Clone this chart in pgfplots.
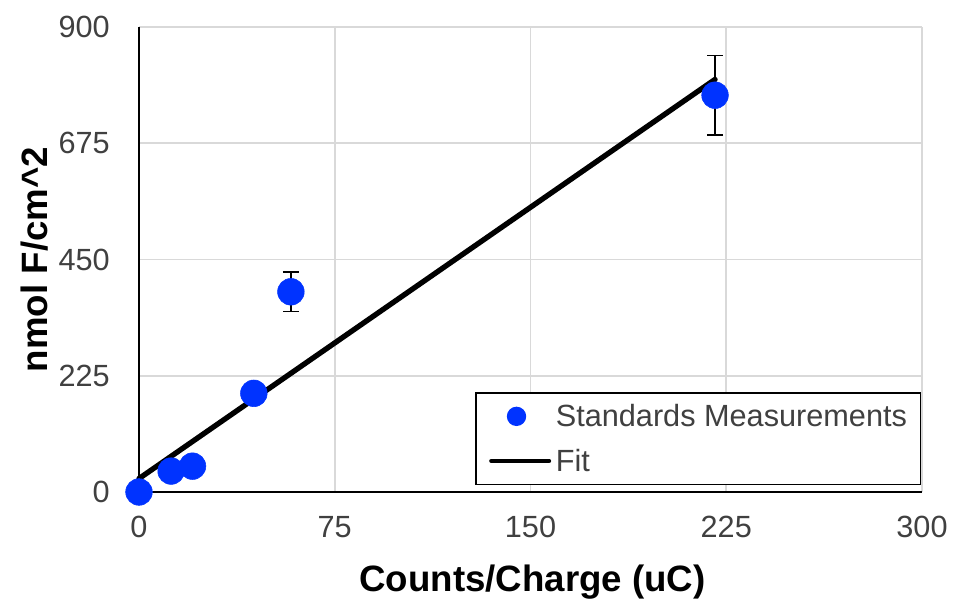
\documentclass[border=0pt]{standalone}
\usepackage{fontspec}
\setmainfont{Liberation Sans}
\usepackage{pgfplots}
\pgfplotsset{compat=1.18}
\definecolor{ptblue}{RGB}{0,51,255}
\definecolor{gridgray}{RGB}{217,217,217}
\definecolor{ticktext}{RGB}{64,64,64}
\begin{document}
\begin{tikzpicture}
\begin{axis}[
  name=ax,
  scale only axis,
  width=587.25pt, height=348.75pt,
  xmin=0, xmax=300, ymin=0, ymax=900,
  xtick={0,75,150,225,300}, ytick={0,225,450,675,900},
  axis lines=left,
  axis line style={-, black, line width=1.2pt},
  grid=major,
  major grid style={gridgray, line width=1.2pt},
  major tick length=0pt,
  tick label style={font=\fontsize{23}{27}\selectfont, text=ticktext, inner sep=0pt},
  /pgf/number format/assume math mode=true,
  xticklabel shift=18pt,
  yticklabel shift=21.75pt,
  xlabel={Counts/Charge (uC)},
  ylabel={nmol F/cm\^{}2},
  label style={font=\fontsize{27.5}{32}\selectfont\bfseries, text=black, inner sep=0pt},
  xlabel style={at={(axis description cs:0.5026,-0.215)}, anchor=base},
  ylabel style={at={(axis description cs:-0.1175,0.5)}, anchor=base},
  legend cell align=left,
  legend style={
    at={(0.9987,0.015)}, anchor=south east,
    draw=black, line width=1pt, fill=white,
    inner xsep=10pt, inner ysep=8.5pt,
    row sep=15.25pt,
    nodes={inner sep=0pt, text=ticktext, font=\fontsize{23}{27}\selectfont},
    /tikz/every odd column/.append style={column sep=3.5pt},
  },
  clip=false,
]
\addplot[
  only marks, mark=*, mark size=10pt,
  mark options={draw=ptblue, fill=ptblue},
  legend image code/.code={\path[draw=none, fill=none] (0pt,-1pt) rectangle (43.5pt,1pt); \fill[ptblue] (19pt,0pt) circle (6.75pt);},
  error bars/.cd, y dir=both, y explicit,
  error bar style={line width=1pt, black},
  error mark options={black, line width=1pt, mark size=6pt, rotate=90},
] table[x=x, y=y, y error=e] {
x y e
0 0 0
12.3 40.5 4
20.5 50 5
44 191 19
58.2 387.5 38
220.7 768 77
};
\addlegendentry{Standards Measurements}
\addplot[black, line width=4pt, line cap=round,
  legend image code/.code={\draw[black, line width=3pt] (0pt,0pt) -- (43.5pt,0pt);}]
  coordinates {(0,26) (220.7,798.5)};
\addlegendentry{Fit}
\end{axis}
\pgfresetboundingbox
\path ([shift={(-104.25pt,-80.25pt)}]ax.south west) rectangle ([shift={(24.75pt,20.25pt)}]ax.north east);
\end{tikzpicture}
\end{document}
